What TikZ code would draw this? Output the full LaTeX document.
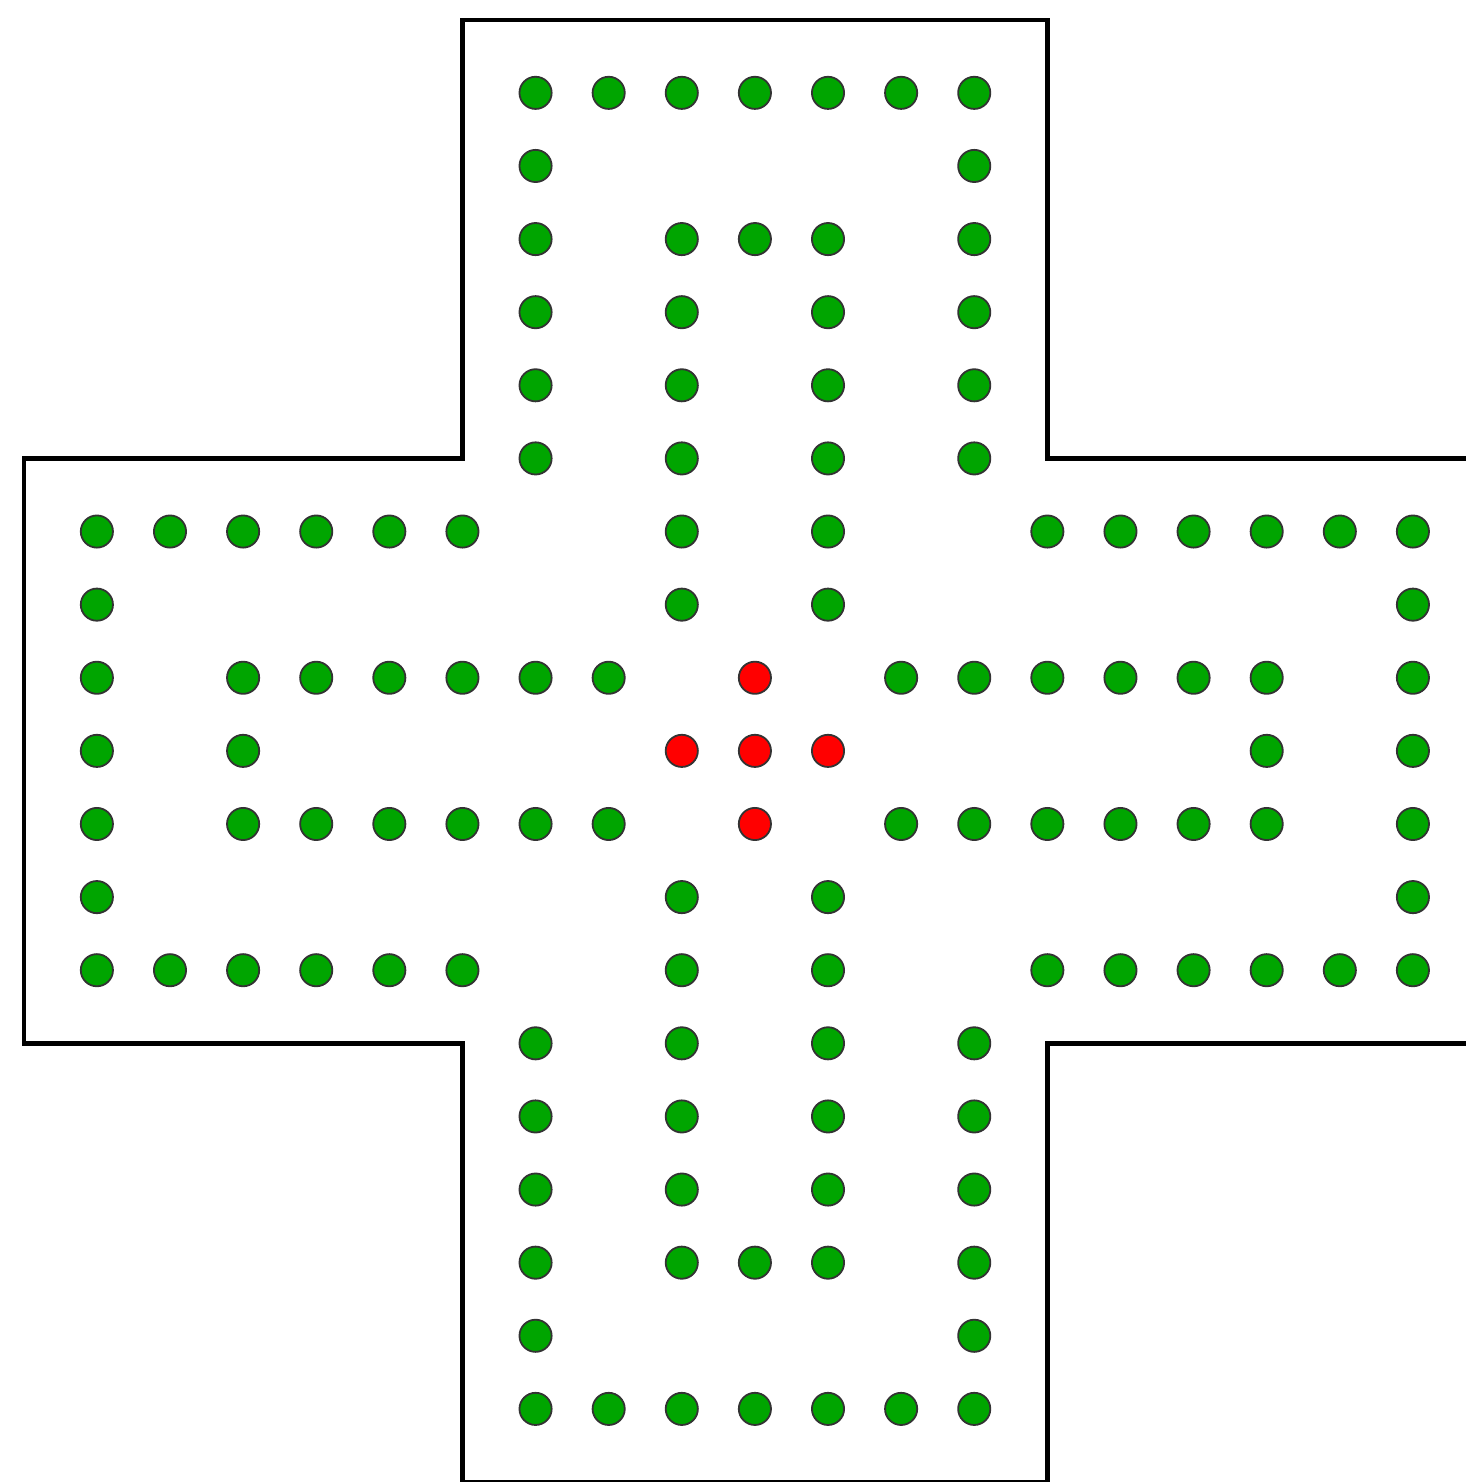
\documentclass[tikz,border=0pt]{standalone}
\begin{document}
\begin{tikzpicture}[x=1cm,y=-1cm,
  peg/.style={circle,draw=black!80,line width=0.7pt,minimum size=0.44cm,inner sep=0pt},
  gpeg/.style={peg,fill={rgb,255:red,0;green,165;blue,0}},
  rpeg/.style={peg,fill={rgb,255:red,255;green,0;blue,0}},
  board/.style={draw=black,line width=1.7pt,line join=miter}]
\useasboundingbox (-1.325,-1.27) rectangle (18.725,19.0);
\fill[white] (-1.325,-1.27) rectangle (18.725,19.0);
\draw[board] (5,-1) -- (13,-1) -- (13,5) -- (19,5) -- (19,13) -- (13,13) -- (13,19) -- (5,19) -- (5,13) -- (-1,13) -- (-1,5) -- (5,5) -- cycle;
% green pegs
\foreach \c/\r in {
 6/0,7/0,8/0,9/0,10/0,11/0,12/0,
 6/1,12/1,
 6/2,8/2,9/2,10/2,12/2,
 6/3,8/3,10/3,12/3,
 6/4,8/4,10/4,12/4,
 6/5,8/5,10/5,12/5,
 0/6,1/6,2/6,3/6,4/6,5/6,8/6,10/6,13/6,14/6,15/6,16/6,17/6,18/6,
 0/7,8/7,10/7,18/7,
 0/8,2/8,3/8,4/8,5/8,6/8,7/8,11/8,12/8,13/8,14/8,15/8,16/8,18/8,
 0/9,2/9,16/9,18/9,
 0/10,2/10,3/10,4/10,5/10,6/10,7/10,11/10,12/10,13/10,14/10,15/10,16/10,18/10,
 0/11,8/11,10/11,18/11,
 0/12,1/12,2/12,3/12,4/12,5/12,8/12,10/12,13/12,14/12,15/12,16/12,17/12,18/12,
 6/13,8/13,10/13,12/13,
 6/14,8/14,10/14,12/14,
 6/15,8/15,10/15,12/15,
 6/16,8/16,9/16,10/16,12/16,
 6/17,12/17,
 6/18,7/18,8/18,9/18,10/18,11/18,12/18}
 \node[gpeg] (g-\c-\r) at (\c,\r) {};
% red pegs
\foreach \c/\r in {9/8,8/9,9/9,10/9,9/10}
 \node[rpeg] (r-\c-\r) at (\c,\r) {};
\end{tikzpicture}
\end{document}
